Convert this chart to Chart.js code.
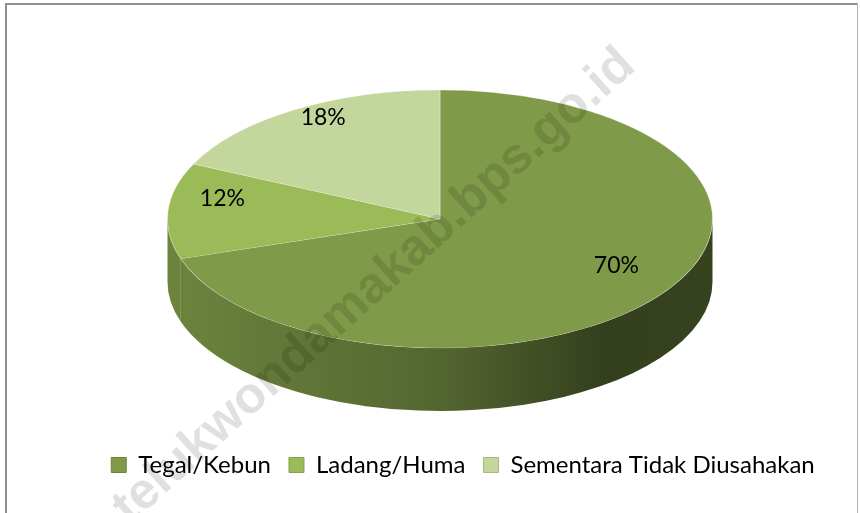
<!DOCTYPE html>
<html>
<head>
<meta charset="utf-8">
<script src="https://cdn.jsdelivr.net/npm/chart.js@4.4.0/dist/chart.umd.min.js"></script>
<style>
  html, body { margin: 0; padding: 0; background: #fff; }
  #wrap { width: 860px; height: 513px; position: relative; }
</style>
</head>
<body>
<div id="wrap"><canvas id="pie"></canvas></div>
<script>
const categories = ["Tegal/Kebun", "Ladang/Huma", "Sementara Tidak Diusahakan"];
const shares = [70, 12, 18];
const colors = ["#7F9A48", "#9BBB59", "#C3D69B"];

// where the tilted pie goes on the page (ellipse of the top face)
const CX = 440, CY = 219, RX = 272.5, RY = 129, DEPTH = 63;
const FONT = "Lato, 'Open Sans', sans-serif";

function shade(hex, f) {
  const n = parseInt(hex.slice(1), 16);
  const r = Math.round(((n >> 16) & 255) * f);
  const g = Math.round(((n >> 8) & 255) * f);
  const b = Math.round((n & 255) * f);
  return `rgb(${r},${g},${b})`;
}

function tilt(ctx, arc) {
  const s = RX / arc.outerRadius;
  ctx.translate(CX, CY);
  ctx.scale(s, s * RY / RX);
  ctx.translate(-arc.x, -arc.y);
}

const frame = {
  id: "frame",
  beforeDraw(chart) {
    const ctx = chart.ctx;
    ctx.save();
    ctx.fillStyle = "#fff";
    ctx.fillRect(0, 0, chart.width, chart.height);
    ctx.fillStyle = "#8f8f8f";
    ctx.fillRect(5, 3, 853, 2);
    ctx.fillRect(5, 3, 2, chart.height);
    ctx.fillStyle = "#b5b5b5";
    ctx.fillRect(857, 3, 1, chart.height);
    ctx.restore();
  }
};

const pie3d = {
  id: "pie3d",
  beforeDatasetsDraw(chart) {
    const ctx = chart.ctx;
    const arcs = chart.getDatasetMeta(0).data;
    const a0 = arcs[0];
    const s = RX / a0.outerRadius;
    const k = RY / RX;
    const depth = DEPTH / (s * k);
    ctx.save();
    tilt(ctx, a0);
    // side wall, only the front half (angles 0..PI) is seen
    arcs.forEach((arc, i) => {
      const segs = [];
      for (let off = -2 * Math.PI; off <= 2 * Math.PI; off += 2 * Math.PI) {
        const lo = Math.max(arc.startAngle, off), hi = Math.min(arc.endAngle, off + Math.PI);
        if (hi > lo) segs.push([lo, hi]);
      }
      segs.forEach(([lo, hi]) => {
        const r = arc.outerRadius;
        const g = ctx.createLinearGradient(arc.x - r, 0, arc.x + r, 0);
        g.addColorStop(0, shade(colors[0], 0.86));
        g.addColorStop(0.5, shade(colors[0], 0.66));
        g.addColorStop(0.8, shade(colors[0], 0.41));
        g.addColorStop(1, shade(colors[0], 0.43));
        ctx.beginPath();
        ctx.arc(arc.x, arc.y, r, lo, hi);
        ctx.arc(arc.x, arc.y + depth, r, hi, lo, true);
        ctx.closePath();
        ctx.fillStyle = g;
        ctx.fill();
      });
    });
  },
  afterDatasetsDraw(chart) {
    const ctx = chart.ctx;
    ctx.restore();
    const arcs = chart.getDatasetMeta(0).data;
    const s = RX / arcs[0].outerRadius;
    const k = RY / RX;
    ctx.save();
    ctx.fillStyle = "#000";
    ctx.font = `23px ${FONT}`;
    ctx.textAlign = "center";
    ctx.textBaseline = "middle";
    arcs.forEach((arc, i) => {
      const mid = (arc.startAngle + arc.endAngle) / 2;
      const d = arc.outerRadius * 0.8;
      const x = CX + Math.cos(mid) * d * s;
      const y = CY - 14 + Math.sin(mid) * d * s * k;
      ctx.fillText(shares[i] + "%", x, y);
    });
    ctx.restore();
  }
};

const watermark = {
  id: "watermark",
  afterDraw(chart) {
    const ctx = chart.ctx;
    ctx.save();
    ctx.translate(628, 58);
    ctx.rotate(-42 * Math.PI / 180);
    ctx.font = "bold 51px 'Liberation Sans', Arial, sans-serif";
    ctx.textAlign = "right";
    ctx.textBaseline = "middle";
    ctx.fillStyle = "rgba(0,0,0,0.12)";
    ctx.fillText("telukwondamakab.bps.go.id", 0, 0);
    ctx.restore();
  }
};

new Chart(document.getElementById("pie"), {
  type: "pie",
  data: {
    labels: categories,
    datasets: [
      {
        data: shares,
        backgroundColor: colors,
        borderColor: "rgba(255,255,255,0.35)",
        borderWidth: 0.8,
      },
    ],
  },
  options: {
    responsive: true,
    maintainAspectRatio: false,
    animation: false,
    layout: { padding: { left: 66, right: 0, top: 10, bottom: 26 } },
    plugins: {
      tooltip: { enabled: false },
      legend: {
        position: "bottom",
        labels: {
          color: "#000",
          boxWidth: 15,
          boxHeight: 15,
          padding: 18,
          font: { family: FONT, size: 24 },
          generateLabels(chart) {
            return categories.map((c, i) => ({
              text: c,
              fillStyle: colors[i],
              strokeStyle: shade(colors[i], 0.85),
              lineWidth: 1,
              index: i,
            }));
          },
        },
      },
    },
  },
  plugins: [frame, pie3d, watermark],
});
</script>
</body>
</html>
